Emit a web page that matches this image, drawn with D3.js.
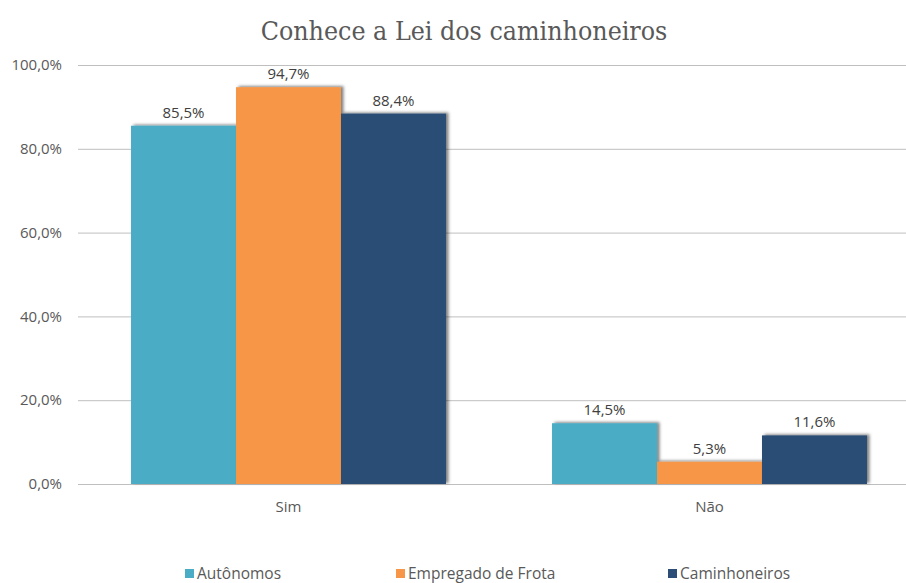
<!DOCTYPE html>
<html>
<head>
<meta charset="utf-8">
<script src="https://cdn.jsdelivr.net/npm/d3@7"></script>
<style>
  body { margin: 0; background: #fff; }
  text { font-family: "Open Sans", "Liberation Sans", sans-serif; fill: #595959; }
</style>
</head>
<body>
<div id="chart"></div>
<script>
// dados
const categories = ["Sim", "Não"];
const series = ["Autônomos", "Empregado de Frota", "Caminhoneiros"];
const values = {
  "Autônomos": [85.5, 14.5],
  "Empregado de Frota": [94.7, 5.3],
  "Caminhoneiros": [88.4, 11.6]
};
const yTicks = [0, 20, 40, 60, 80, 100];
const colors = ["#4BACC6", "#F79646", "#2C4D75"];

const width = 906, height = 583;
const margin = {top: 65, right: -14, bottom: 99, left: 78};

const svg = d3.select("#chart").append("svg")
    .attr("width", width)
    .attr("height", height)
    .attr("viewBox", [0, 0, width, height]);

// sombra das barras
const defs = svg.append("defs");
defs.append("filter")
    .attr("id", "shadow")
    .attr("x", "-20%").attr("y", "-20%").attr("width", "140%").attr("height", "140%")
  .append("feDropShadow")
    .attr("dx", 2.5).attr("dy", -1)
    .attr("stdDeviation", 1.8)
    .attr("flood-color", "#000")
    .attr("flood-opacity", 0.5);

const x0 = d3.scaleBand()
    .domain(categories)
    .range([margin.left, width - margin.right])
    .paddingInner(0)
    .paddingOuter(0);

const x1 = d3.scaleBand()
    .domain(series)
    .range([0, x0.bandwidth()])
    .paddingOuter(0.505);

const y = d3.scaleLinear()
    .domain([0, 100])
    .range([height - margin.bottom, margin.top]);

const fmt = v => d3.format(".1f")(v).replace(".", ",") + "%";

// título
svg.append("text")
    .attr("x", 464)
    .attr("y", 40)
    .attr("text-anchor", "middle")
    .style("font-family", "'DejaVu Serif Condensed', 'Liberation Serif', serif")
    .style("font-size", "26.5px")
    .style("fill", "#595959")
    .text("Conhece a Lei dos caminhoneiros");

// grade
svg.append("g")
    .selectAll("line")
    .data(yTicks)
    .join("line")
    .attr("x1", margin.left)
    .attr("x2", width)
    .attr("y1", d => y(d) + 0.5)
    .attr("y2", d => y(d) + 0.5)
    .attr("stroke", "#BFBFBF")
    .attr("stroke-width", 1);

// eixo y
svg.append("g")
    .selectAll("text")
    .data(yTicks)
    .join("text")
    .attr("x", 62)
    .attr("y", d => y(d))
    .attr("dy", "0.35em")
    .attr("text-anchor", "end")
    .style("font-size", "15px")
    .text(d => fmt(d));

// barras
const groups = svg.append("g")
    .selectAll("g")
    .data(series)
    .join("g")
    .attr("fill", (d, i) => colors[i]);

groups.selectAll("rect")
    .data(s => categories.map((c, i) => ({s, c, v: values[s][i]})))
    .join("rect")
    .attr("x", d => x0(d.c) + x1(d.s))
    .attr("y", d => y(d.v))
    .attr("width", x1.bandwidth())
    .attr("height", d => y(0) - y(d.v))
    .attr("filter", "url(#shadow)");

// rótulos
svg.append("g")
    .selectAll("text")
    .data(series.flatMap(s => categories.map((c, i) => ({s, c, v: values[s][i]}))))
    .join("text")
    .attr("x", d => x0(d.c) + x1(d.s) + x1.bandwidth() / 2)
    .attr("y", d => y(d.v) - 8)
    .attr("text-anchor", "middle")
    .style("font-size", "15px")
    .style("fill", "#404040")
    .text(d => fmt(d.v));

// eixo x
svg.append("g")
    .selectAll("text")
    .data(categories)
    .join("text")
    .attr("x", d => x0(d) + x0.bandwidth() / 2)
    .attr("y", 512)
    .attr("text-anchor", "middle")
    .style("font-size", "15px")
    .text(d => d);

// legenda
const legendX = [185, 396, 668];
const legend = svg.append("g")
    .selectAll("g")
    .data(series)
    .join("g")
    .attr("transform", (d, i) => `translate(${legendX[i]},574)`);

legend.append("rect")
    .attr("x", 0)
    .attr("y", -5)
    .attr("width", 9)
    .attr("height", 9)
    .attr("fill", (d, i) => colors[i]);

legend.append("text")
    .attr("x", 12)
    .attr("y", 0)
    .attr("dy", "0.35em")
    .style("font-size", "15.5px")
    .text(d => d);
</script>
</body>
</html>
